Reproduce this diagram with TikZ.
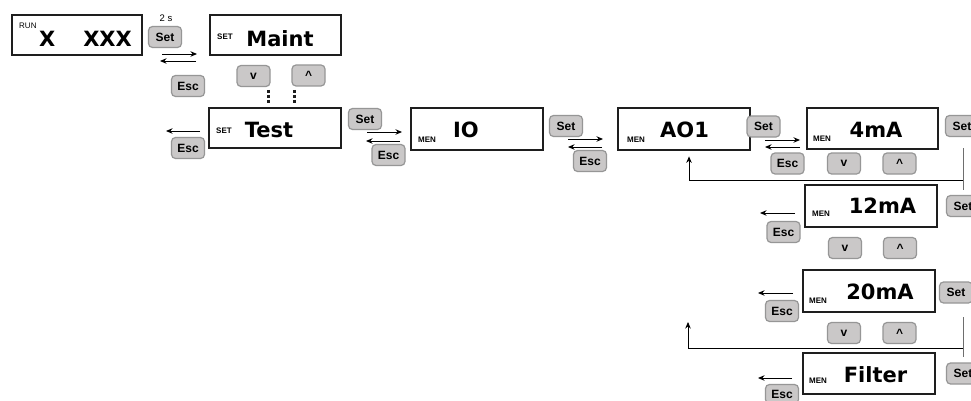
\documentclass[tikz,border=0pt]{standalone}
\usepackage{fontspec}
\setmainfont{Liberation Sans}
\newfontfamily\dispfont{DejaVu Sans}
\usetikzlibrary{arrows.meta,calc}
\definecolor{btnfill}{RGB}{202,200,200}
\definecolor{btnline}{RGB}{150,150,150}
\definecolor{boxline}{RGB}{30,30,30}
\definecolor{fbgray}{RGB}{110,110,110}
\tikzset{
  lcd/.style={draw=boxline, line width=2.8pt, minimum width=#1, minimum height=40pt, inner sep=0pt},
  lcd/.default=131pt,
  bigtxt/.style={anchor=base, inner sep=0pt, font=\dispfont\bfseries\fontsize{21}{21}\selectfont},
  smalltxt/.style={anchor=base west, inner sep=0pt, font=\bfseries\fontsize{8}{8}\selectfont},
  btn/.style={draw=btnline, fill=btnfill, line width=1.2pt, rounded corners=4pt,
    minimum width=33pt, minimum height=21pt, inner sep=0pt, font=\bfseries\fontsize{12}{12}\selectfont},
  arr/.style={-{Stealth[length=6.5pt,width=5.5pt]}, line width=0.9pt, black},
  fbline/.style={line width=0.8pt, black},
  fbvert/.style={line width=0.8pt, fbgray},
  dotline/.style={line width=3pt, dash pattern=on 2.6pt off 2.4pt, boxline}
}
\begin{document}
\begin{tikzpicture}[x=1pt,y=-1pt]
\clip (0,0) rectangle (971,401);
\fill[white] (0,0) rectangle (971,401);

% display boxes
\node[lcd=130pt] (run) at (77,35) {};
\node[lcd] (maint) at (275.5,35) {};
\node[lcd=132pt] (test) at (275,128) {};
\node[lcd=132pt, minimum height=42pt] (io) at (477,129) {};
\node[lcd=132pt, minimum height=42pt] (ao1) at (684,129) {};
\node[lcd, minimum height=41pt] (m4) at (872.5,128.5) {};
\node[lcd=132pt, minimum height=42pt] (m12) at (871,206) {};
\node[lcd=132pt, minimum height=42pt] (m20) at (869,291) {};
\node[lcd=132pt, minimum height=41pt] (filt) at (869,373.5) {};

% main texts
\node[bigtxt] (trun) at (85.5,46.5) {X\hspace{28pt}XXX};
\node[bigtxt] (tmaint) at (280,46.5) {Maint};
\node[bigtxt] (ttest) at (269,137) {Test};
\node[bigtxt] (tio) at (466,138) {IO};
\node[bigtxt] (tao1) at (684.5,138) {AO1};
\node[bigtxt] (t4) at (876,138) {4mA};
\node[bigtxt] (t12) at (882.5,213) {12mA};
\node[bigtxt] (t20) at (880,299) {20mA};
\node[bigtxt] (tfilt) at (875.5,382) {Filter};

% small labels
\node[smalltxt, font=\fontsize{8}{8}\selectfont] (lrun) at (19,29) {RUN};
\node[smalltxt] (lmaint) at (217,39.5) {SET};
\node[smalltxt] (ltest) at (216,133) {SET};
\node[smalltxt] (lio) at (418,142.5) {MEN};
\node[smalltxt] (lao1) at (627,142.5) {MEN};
\node[smalltxt] (l4) at (813,141) {MEN};
\node[smalltxt] (l12) at (812,216) {MEN};
\node[smalltxt] (l20) at (809,303) {MEN};
\node[smalltxt] (lfilt) at (809,383) {MEN};

% buttons
\node[btn] (set0) at (165,37) {Set};
\node[anchor=base, inner sep=0pt, font=\fontsize{9.5}{9.5}\selectfont] (two) at (166,22) {2 s};
\node[btn] (esc0) at (188,86) {Esc};
\node[btn] (dn1) at (253.5,76) {v};
\node[btn] (up1) at (308.5,75.5) {\textasciicircum};
\node[btn] (esc1) at (188,148) {Esc};
\node[btn] (set1) at (365,119) {Set};
\node[btn] (esc2) at (388.5,155) {Esc};
\node[btn] (set2) at (566,126) {Set};
\node[btn] (esc3) at (590,161) {Esc};
\node[btn] (set3) at (763.5,126.5) {Set};
\node[btn] (esc4) at (787.5,163.5) {Esc};
\node[btn] (dn4) at (844,163.5) {v};
\node[btn] (up4) at (899.5,163.5) {\textasciicircum};
\node[btn] (setr1) at (962,126) {Set};
\node[btn] (setr2) at (963,206) {Set};
\node[btn] (esc5) at (783.5,232) {Esc};
\node[btn] (dn5) at (845,248) {v};
\node[btn] (up5) at (900,248) {\textasciicircum};
\node[btn] (setr3) at (956,292.5) {Set};
\node[btn] (esc6) at (782,311) {Esc};
\node[btn] (dn6) at (844,333) {v};
\node[btn] (up6) at (899.5,333) {\textasciicircum};
\node[btn] (setr4) at (963,373.5) {Set};
\node[btn, minimum height=19pt] (esc7) at (782,394) {Esc};

% dotted continuation
\coordinate (d1a) at (268,90); \coordinate (d1b) at (268,104);
\coordinate (d2a) at (294,90); \coordinate (d2b) at (294,104);
\draw[dotline] (d1a) -- (d1b);
\draw[dotline] (d2a) -- (d2b);

% arrows
\coordinate (a0s) at (162,54); \coordinate (a0e) at (197,54);
\coordinate (b0s) at (196,61); \coordinate (b0e) at (160,61);
\draw[arr] (a0s) -- (a0e);
\draw[arr] (b0s) -- (b0e);
\coordinate (b1s) at (200,131); \coordinate (b1e) at (166,131);
\draw[arr] (b1s) -- (b1e);
\coordinate (a2s) at (367,132); \coordinate (a2e) at (402,132);
\coordinate (b2s) at (400,141); \coordinate (b2e) at (366,141);
\draw[arr] (a2s) -- (a2e);
\draw[arr] (b2s) -- (b2e);
\coordinate (a3s) at (568,139); \coordinate (a3e) at (603,139);
\coordinate (b3s) at (602,147); \coordinate (b3e) at (568,147);
\draw[arr] (a3s) -- (a3e);
\draw[arr] (b3s) -- (b3e);
\coordinate (a4s) at (765,140); \coordinate (a4e) at (800,140);
\coordinate (b4s) at (800,147); \coordinate (b4e) at (765,147);
\draw[arr] (a4s) -- (a4e);
\draw[arr] (b4s) -- (b4e);
\coordinate (b5s) at (795,213); \coordinate (b5e) at (760,213);
\draw[arr] (b5s) -- (b5e);
\coordinate (b6s) at (793,293); \coordinate (b6e) at (758,293);
\draw[arr] (b6s) -- (b6e);
\coordinate (b7s) at (792,378); \coordinate (b7e) at (758,378);
\draw[arr] (b7s) -- (b7e);

% feedback loops
\coordinate (f1t) at (963,148); \coordinate (f1b) at (963,190);
\coordinate (f1j) at (963,180); \coordinate (f1l) at (689,180);
\draw[fbvert] (f1t) -- (f1b);
\draw[fbline, -{Stealth[length=6.5pt,width=5.5pt]}] (f1j) -- (f1l) -- ($(ao1.south -| f1l)+(0,5)$);
\coordinate (f2t) at (963,317); \coordinate (f2b) at (963,357);
\coordinate (f2j) at (963,348); \coordinate (f2l) at (688,348);
\coordinate (f2e) at (688,322);
\draw[fbvert] (f2t) -- (f2b);
\draw[fbline, -{Stealth[length=6.5pt,width=5.5pt]}] (f2j) -- (f2l) -- (f2e);
\end{tikzpicture}
\end{document}
